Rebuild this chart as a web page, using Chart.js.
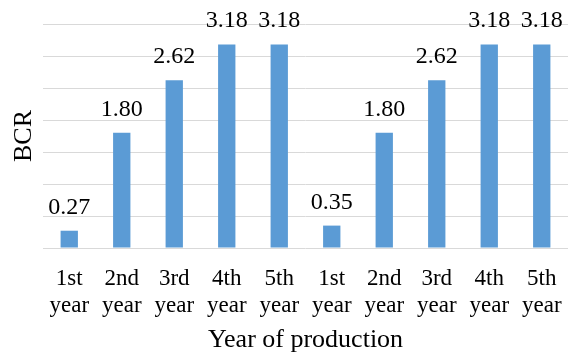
<!DOCTYPE html>
<html>
<head>
<meta charset="utf-8">
<script src="https://cdn.jsdelivr.net/npm/chart.js@4/dist/chart.umd.min.js"></script>
<style>
  html, body { margin: 0; padding: 0; background: #ffffff; }
  canvas { display: block; }
</style>
</head>
<body>
<canvas id="chart" width="574" height="356"></canvas>
<script>
// Year labels (two lines each) for the two five-year groups
const yearLabels = [
  ['1st', 'year'], ['2nd', 'year'], ['3rd', 'year'], ['4th', 'year'], ['5th', 'year'],
  ['1st', 'year'], ['2nd', 'year'], ['3rd', 'year'], ['4th', 'year'], ['5th', 'year']
];
// Benefit-cost ratio per year
const bcrValues = [0.27, 1.80, 2.62, 3.18, 3.18, 0.35, 1.80, 2.62, 3.18, 3.18];
const yAxisTitle = 'BCR';
const xAxisTitle = 'Year of production';

const serif = '"Liberation Serif", "Times New Roman", serif';

// Writes each bar's value above it
const valueLabels = {
  id: 'valueLabels',
  afterDatasetsDraw(chart) {
    const ctx = chart.ctx;
    const meta = chart.getDatasetMeta(0);
    const data = chart.data.datasets[0].data;
    ctx.save();
    ctx.font = '24px ' + serif;
    ctx.fillStyle = '#000000';
    ctx.textAlign = 'center';
    ctx.textBaseline = 'alphabetic';
    meta.data.forEach((bar, i) => {
      ctx.fillText(data[i].toFixed(2), bar.x, bar.y - 17);
    });
    ctx.restore();
  }
};

function drawChart() {
  new Chart(document.getElementById('chart'), {
    type: 'bar',
    data: {
      labels: yearLabels,
      datasets: [{
        data: bcrValues,
        backgroundColor: '#5b9bd5',
        borderWidth: 0,
        barPercentage: 0.33,
        categoryPercentage: 1.0
      }]
    },
    options: {
      responsive: false,
      devicePixelRatio: 1,
      animation: false,
      layout: { padding: { top: 24, right: 6, left: 0, bottom: 0 } },
      plugins: {
        legend: { display: false },
        tooltip: { enabled: false }
      },
      scales: {
        x: {
          grid: { display: false },
          border: { display: false },
          ticks: {
            color: '#000000',
            font: { family: serif, size: 23, lineHeight: 27 / 23 },
            padding: 9,
            maxRotation: 0,
            autoSkip: false
          },
          title: {
            display: true,
            text: xAxisTitle,
            color: '#000000',
            font: { family: serif, size: 26, lineHeight: 1.2 },
            padding: { top: 0, bottom: 0 }
          },
          afterFit(scale) { scale.height = 108; }
        },
        y: {
          min: 0,
          max: 3.5,
          ticks: { display: false, stepSize: 0.5 },
          grid: { color: '#d9d9d9', lineWidth: 1, drawTicks: false },
          border: { display: false },
          title: {
            display: true,
            text: yAxisTitle,
            color: '#000000',
            font: { family: serif, size: 26, lineHeight: 1.2 },
            padding: { top: 9, bottom: 0 }
          },
          afterFit(scale) { scale.width = 43; }
        }
      }
    },
    plugins: [valueLabels]
  });
}

// Make sure the serif face is ready before the canvas text is drawn
const faces = ['23px "Liberation Serif"', '24px "Liberation Serif"', '26px "Liberation Serif"'];
Promise.all(faces.map(f => document.fonts.load(f, '0123456789.BCRYearofproductionstndh')))
  .catch(() => {})
  .then(drawChart);
</script>
</body>
</html>
